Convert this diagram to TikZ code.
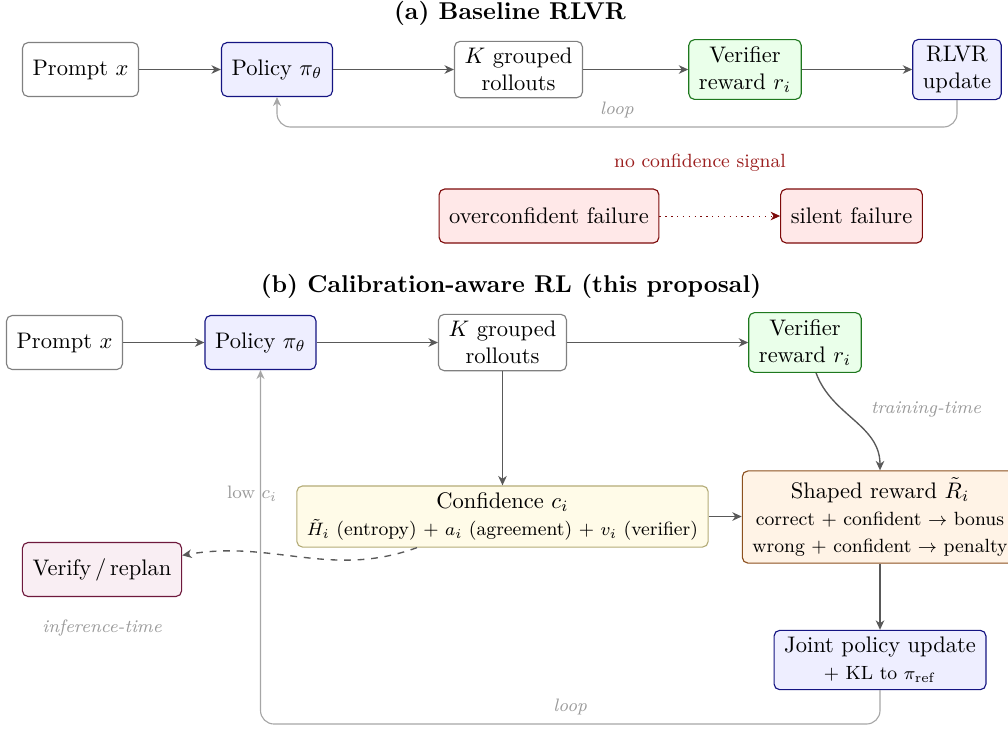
\documentclass[tikz,border=0pt]{standalone}
\usepackage{tikz}
\usetikzlibrary{arrows.meta}

\definecolor{polline}{RGB}{20,20,130}
\definecolor{polfill}{RGB}{238,238,255}
\definecolor{verline}{RGB}{30,120,30}
\definecolor{verfill}{RGB}{234,255,234}
\definecolor{failline}{RGB}{125,10,10}
\definecolor{failfill}{RGB}{255,232,232}
\definecolor{confline}{RGB}{180,172,120}
\definecolor{conffill}{RGB}{255,251,232}
\definecolor{shapeline}{RGB}{140,80,30}
\definecolor{shapefill}{RGB}{255,243,230}
\definecolor{planline}{RGB}{110,25,60}
\definecolor{planfill}{RGB}{249,238,243}
\definecolor{warntext}{RGB}{155,30,30}

\newcommand{\sub}{\fontsize{8.5}{10.5}\selectfont}

\begin{document}
\begin{tikzpicture}[x=0.4444pt,y=0.4444pt,
    box/.style={draw=black!50, fill=white, rounded corners=2.5pt, align=center,
        inner xsep=4.5pt, inner ysep=3pt, minimum height=24pt, line width=0.5pt},
    polbox/.style={box, draw=polline, fill=polfill},
    verbox/.style={box, draw=verline, fill=verfill},
    failbox/.style={box, draw=failline, fill=failfill},
    confbox/.style={box, draw=confline, fill=conffill},
    shapebox/.style={box, draw=shapeline, fill=shapefill},
    planbox/.style={box, draw=planline, fill=planfill},
    flow/.style={-{Stealth[length=4.2pt,width=3.8pt,inset=1.3pt]}, draw=black!65, semithick},
    loopline/.style={-{Stealth[length=4pt,width=3.6pt,inset=1.3pt]}, draw=black!35,
        line width=0.5pt, rounded corners=6pt},
    note/.style={font=\footnotesize\itshape, text=black!40},
    lbl/.style={font=\footnotesize, text=black!40},
    heading/.style={font=\fontsize{10.8}{13}\selectfont\bfseries}]
\useasboundingbox (0,0) rectangle (1008,-729);

\node[heading] (titleA) at (510,-13) {(a) Baseline RLVR};
\node[box] (promptA) at (80.5,-69.5) {Prompt $x$};
\node[polbox] (policyA) at (277,-69.5) {Policy $\pi_\theta$};
\node[box] (rollA) at (518.5,-69.5) {$K$ grouped\\rollouts};
\node[verbox] (verA) at (745,-69.5) {Verifier\\reward $r_i$};
\node[polbox] (updA) at (957,-69.5) {RLVR\\update};
\draw[flow] (promptA) -- (policyA);
\draw[flow] (policyA) -- (rollA);
\draw[flow] (rollA) -- (verA);
\draw[flow] (verA) -- (updA);
\coordinate (lpa) at (0,-127);
\draw[loopline] (updA.south) -- (updA.south |- lpa)
    -- node[note, above=0.5pt] {loop} (policyA.south |- lpa) -- (policyA.south);

\node[font=\sub, text=warntext] (nosig) at (700,-163) {no confidence signal};
\node[failbox] (overA) at (549,-216) {overconfident failure};
\node[failbox] (silA) at (851.5,-216) {silent failure};
\draw[flow, draw=failline, dotted, thin] (overA) -- (silA);

\node[heading] (titleB) at (511,-286) {(b) Calibration-aware RL (this proposal)};
\node[box] (promptB) at (64.5,-342.5) {Prompt $x$};
\node[polbox] (policyB) at (260.5,-342.5) {Policy $\pi_\theta$};
\node[box] (rollB) at (502.5,-342.5) {$K$ grouped\\rollouts};
\node[verbox] (verB) at (805,-342.5) {Verifier\\reward $r_i$};
\node[confbox] (conf) at (502.5,-516.5)
    {Confidence $c_i$\\{\sub $\tilde{H}_i$ (entropy) + $a_i$ (agreement) + $v_i$ (verifier)}};
\node[shapebox] (shaped) at (880,-517)
    {Shaped reward $\tilde{R}_i$\\{\sub correct + confident $\rightarrow$ bonus}\\{\sub wrong + confident $\rightarrow$ penalty}};
\node[planbox] (replan) at (102,-569.5) {Verify\,/\,replan};
\node[polbox] (joint) at (880,-660) {Joint policy update\\{\sub + KL to $\pi_{\mathrm{ref}}$}};

\draw[flow] (promptB) -- (policyB);
\draw[flow] (policyB) -- (rollB);
\draw[flow] (rollB) -- (verB);
\draw[flow] (rollB) -- (conf);
\draw[flow] (verB) to[out=-70, in=90] (shaped);
\node[note] (ttime) at (926,-409) {training-time};
\draw[flow] (conf.east) -- (conf.east -| shaped.west);
\draw[flow] (shaped) -- (joint);
\draw[flow, dashed] (conf) to[out=200, in=10] (replan);
\node[note] (itime) at (102,-628) {inference-time};

\coordinate (lpb) at (0,-724);
\draw[loopline] (joint.south) -- (joint.south |- lpb)
    -- node[note, above=0.5pt] {loop} (policyB.south |- lpb) -- (policyB.south);
\node[lbl] (lowc) at (252,-494) {low $c_i$};
\end{tikzpicture}
\end{document}
